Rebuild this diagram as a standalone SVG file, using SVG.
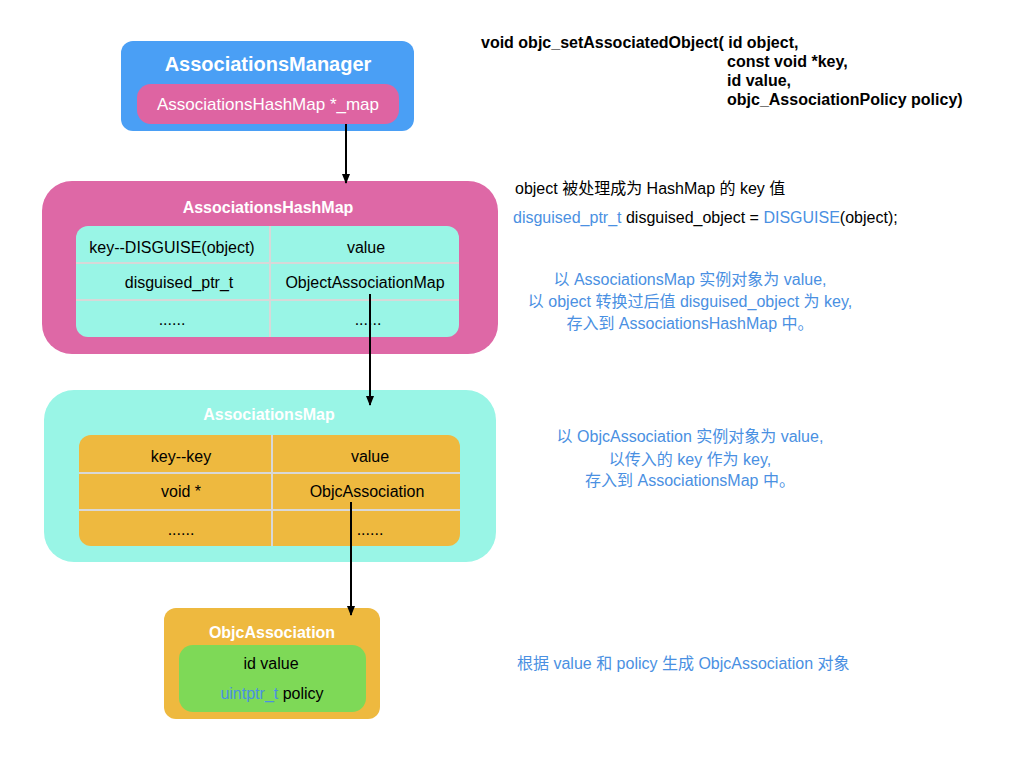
<svg xmlns="http://www.w3.org/2000/svg" width="1024" height="768" viewBox="0 0 1024 768">
<defs>
<marker id="ah" markerWidth="10" markerHeight="10" refX="9" refY="5" orient="auto" markerUnits="userSpaceOnUse">
<path d="M0,1 L10,5 L0,9 Z" fill="#000"/>
</marker>
<style>
text{font-family:"Liberation Sans",Arial,"Noto Sans CJK SC",sans-serif;font-size:16px;fill:#000}
.c{text-anchor:middle}
.t{font-weight:bold;fill:#fff;text-anchor:middle}
.b{fill:#4a90e2}
.sig{font-weight:bold;font-size:16px}
.div{stroke:#d8d8d8;stroke-width:2;fill:none}
.conn{stroke:#000;stroke-width:2;fill:none;marker-end:url(#ah)}
</style>
</defs>
<rect width="1024" height="768" fill="#fff"/>

<g id="manager">
<rect x="121" y="41" width="293" height="90" rx="12" fill="#4a9ff5"/>
<text x="268" y="71" class="t" style="font-size:20px">AssociationsManager</text>
<rect x="137" y="84" width="262" height="40" rx="14" fill="#de64a2"/>
<text x="268" y="110" class="c" style="fill:#fff;font-size:17px">AssociationsHashMap *_map</text>
</g>

<g id="hashmap">
<rect x="42" y="181" width="456" height="173" rx="30" fill="#de68a6"/>
<text x="268" y="213" class="t">AssociationsHashMap</text>
<rect x="76" y="226" width="383" height="111" rx="12" fill="#99f5e6"/>
<path class="div" d="M270,226 V337 M76,263 H459 M76,300 H459"/>
<text x="172" y="253" class="c">key--DISGUISE(object)</text>
<text x="366" y="253" class="c">value</text>
<text x="179" y="288" class="c">disguised_ptr_t</text>
<text x="365" y="288" class="c">ObjectAssociationMap</text>
<text x="172" y="325" class="c">......</text>
<text x="368" y="325" class="c">......</text>
</g>

<g id="assocmap">
<rect x="44" y="390" width="452" height="172" rx="30" fill="#99f5e6"/>
<text x="269" y="420" class="t">AssociationsMap</text>
<rect x="79" y="435" width="381" height="111" rx="12" fill="#eeb93f"/>
<path class="div" d="M272,435 V546 M79,473 H460 M79,510 H460"/>
<text x="181" y="462" class="c">key--key</text>
<text x="370" y="462" class="c">value</text>
<text x="181" y="497" class="c">void *</text>
<text x="367" y="497" class="c">ObjcAssociation</text>
<text x="181" y="535" class="c">......</text>
<text x="370" y="535" class="c">......</text>
</g>

<g id="objcassoc">
<rect x="164" y="608" width="216" height="111" rx="12" fill="#eeb93f"/>
<text x="272" y="638" class="t">ObjcAssociation</text>
<rect x="179" y="645" width="187" height="67" rx="14" fill="#7ed957"/>
<text x="271" y="669" class="c">id value</text>
<text x="272" y="699" class="c"><tspan class="b">uintptr_t</tspan> policy</text>
</g>

<g id="connectors">
<line class="conn" x1="346" y1="124" x2="346" y2="183"/>
<line class="conn" x1="370" y1="294" x2="370" y2="405"/>
<line class="conn" x1="351" y1="502" x2="351" y2="615"/>
</g>

<g id="notes">
<text x="481" y="48" class="sig">void objc_setAssociatedObject( id object,</text>
<text x="727" y="67" class="sig">const void *key,</text>
<text x="727" y="86" class="sig">id value,</text>
<text x="727" y="105" class="sig">objc_AssociationPolicy policy)</text>
<text x="515" y="194">object 被处理成为 HashMap 的 key 值</text>
<text x="513" y="223"><tspan class="b">disguised_ptr_t</tspan> disguised_object = <tspan class="b">DISGUISE</tspan>(object);</text>
<text x="690" y="285" class="c b">以 AssociationsMap 实例对象为 value,</text>
<text x="690" y="307" class="c b">以 object 转换过后值 disguised_object 为 key,</text>
<text x="690" y="329" class="c b">存入到 AssociationsHashMap 中。</text>
<text x="690" y="442" class="c b">以 ObjcAssociation 实例对象为 value,</text>
<text x="690" y="465" class="c b">以传入的 key 作为 key,</text>
<text x="690" y="486" class="c b">存入到 AssociationsMap 中。</text>
<text x="517" y="669" class="b">根据 value 和 policy 生成 ObjcAssociation 对象</text>
</g>
</svg>
